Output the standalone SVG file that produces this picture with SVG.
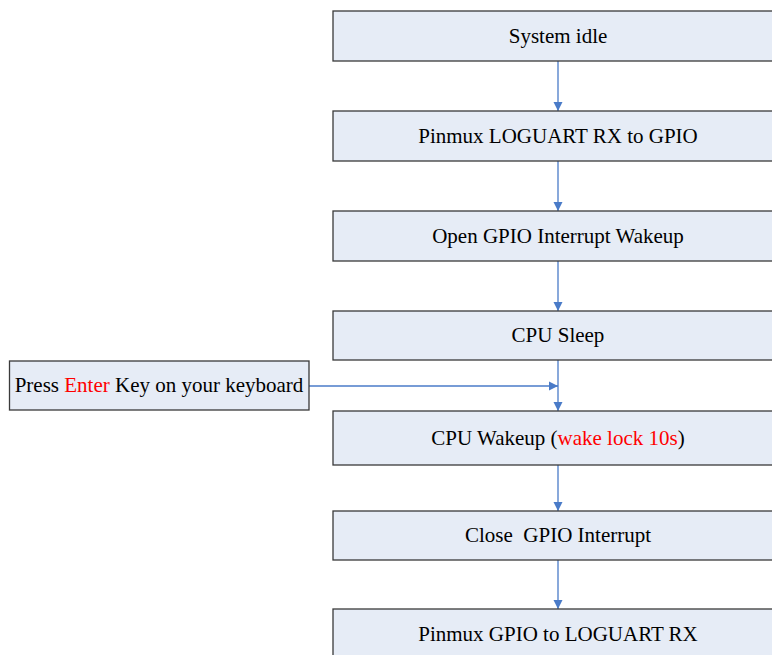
<svg xmlns="http://www.w3.org/2000/svg" width="772" height="655" viewBox="0 0 772 655">
<style>
.box{fill:#E6ECF6;stroke:#3A3A3A;stroke-width:1.3}
.t{font-family:"Liberation Serif","Times New Roman",serif;font-size:21px;fill:#000;text-anchor:middle;white-space:pre}
.r{fill:#FF0000}
.c{stroke:#4A7BC8;stroke-width:1.3;fill:none}
</style>
<defs>
<marker id="ah" markerWidth="10" markerHeight="10" refX="9" refY="5" orient="auto" markerUnits="userSpaceOnUse">
<path d="M0,0.5 L9,5 L0,9.5 Z" fill="#4A7BC8"/>
</marker>
</defs>
<rect width="772" height="655" fill="#fff"/>
<g id="connectors">
<line class="c" x1="558" y1="61" x2="558" y2="111" marker-end="url(#ah)"/>
<line class="c" x1="558" y1="161" x2="558" y2="211" marker-end="url(#ah)"/>
<line class="c" x1="558" y1="261" x2="558" y2="311" marker-end="url(#ah)"/>
<line class="c" x1="558" y1="360" x2="558" y2="411" marker-end="url(#ah)"/>
<line class="c" x1="309" y1="386" x2="558" y2="386" marker-end="url(#ah)"/>
<line class="c" x1="558" y1="465" x2="558" y2="511" marker-end="url(#ah)"/>
<line class="c" x1="558" y1="560" x2="558" y2="609" marker-end="url(#ah)"/>
</g>
<g id="n1"><rect class="box" x="333" y="11" width="450" height="50"/><text class="t" x="558" y="43">System idle</text></g>
<g id="n2"><rect class="box" x="333" y="111" width="450" height="50"/><text class="t" x="558" y="143">Pinmux LOGUART RX to GPIO</text></g>
<g id="n3"><rect class="box" x="333" y="211" width="450" height="50"/><text class="t" x="558" y="243">Open GPIO Interrupt Wakeup</text></g>
<g id="n4"><rect class="box" x="333" y="311" width="450" height="49"/><text class="t" x="558" y="342">CPU Sleep</text></g>
<g id="n5"><rect class="box" x="333" y="411" width="450" height="54"/><text class="t" x="558" y="445">CPU Wakeup (<tspan class="r">wake lock 10s</tspan>)</text></g>
<g id="n6"><rect class="box" x="333" y="511" width="450" height="49"/><text class="t" x="558" y="542" xml:space="preserve">Close  GPIO Interrupt</text></g>
<g id="n7"><rect class="box" x="333" y="609" width="450" height="60"/><text class="t" x="558" y="641">Pinmux GPIO to LOGUART RX</text></g>
<g id="n8"><rect class="box" x="9.5" y="361" width="299.5" height="49"/><text class="t" x="159" y="392">Press <tspan class="r">Enter</tspan> Key on your keyboard</text></g>
</svg>
